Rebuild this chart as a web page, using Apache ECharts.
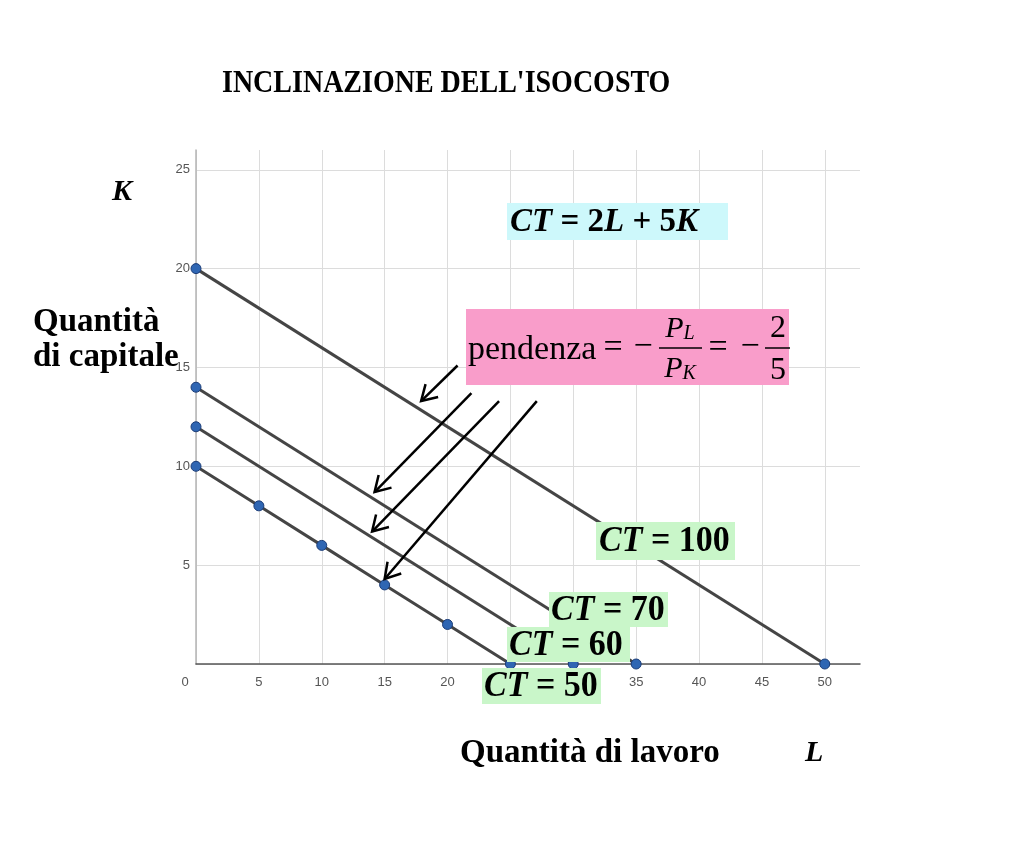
<!DOCTYPE html>
<html><head><meta charset="utf-8">
<script src="https://cdn.jsdelivr.net/npm/echarts@6/dist/echarts.min.js"></script>
<style>html,body{margin:0;padding:0;background:#fff}#c{width:1024px;height:859px}</style>
</head><body><div id="c"></div>
<script>
// ---- data ----
const xTickStep = 5;
const yTickStep = 5;
const xMax = 52.8;
const yMax = 26;
const ct100 = [[0,20],[50,0]];
const ct70  = [[0,14],[35,0]];
const ct60  = [[0,12],[30,0]];
const ct50  = [[0,10],[5,8],[10,6],[15,4],[20,2],[25,0]];
const arrows = [
  [[20.8,15.1],[17.9,13.3]],
  [[21.9,13.7],[14.2,8.7]],
  [[24.1,13.3],[14.0,6.7]],
  [[27.1,13.3],[15.0,4.3]]
];
const titleText = "INCLINAZIONE DELL'ISOCOSTO";

const SERIF = "'Liberation Serif', 'DejaVu Serif', serif";
const NARROW = "'Liberation Sans Narrow', 'Liberation Sans', Roboto, sans-serif";

const chart = echarts.init(document.getElementById('c'), null, {renderer:'canvas'});

function lineSeries(name, data) {
  return {
    name, type: 'line', data, z: 3,
    symbol: 'circle', symbolSize: 10,
    itemStyle: {color: '#2f66b3', borderColor: '#1c3d78', borderWidth: 1},
    lineStyle: {color: '#454545', width: 3},
    animation: false
  };
}

const option = {
  backgroundColor: '#fff',
  animation: false,
  grid: {left: 196, right: 164, top: 150, bottom: 195, containLabel: false},
  xAxis: {
    type: 'value', min: 0, max: xMax, interval: xTickStep,
    axisLine: {show: true, lineStyle: {color: '#555', width: 1.5}},
    axisTick: {show: false},
    axisLabel: {color: '#555', fontFamily: NARROW, fontSize: 13, margin: 12, showMaxLabel: false,
      formatter: v => v === 0 ? '0      ' : String(v)},
    splitLine: {show: true, showMaxLine: false, lineStyle: {color: '#dcdcdc', width: 1}}
  },
  yAxis: {
    type: 'value', min: 0, max: yMax, interval: yTickStep,
    axisLine: {show: true, lineStyle: {color: '#b5b5b5', width: 1.5}},
    axisTick: {show: false},
    axisLabel: {color: '#555', fontFamily: NARROW, fontSize: 13, margin: 6,
      showMaxLabel: false, formatter: v => v === 0 ? '' : String(v)},
    splitLine: {show: true, showMaxLine: false, lineStyle: {color: '#dcdcdc', width: 1}}
  },
  series: [
    lineSeries('CT = 100', ct100),
    lineSeries('CT = 70', ct70),
    lineSeries('CT = 60', ct60),
    lineSeries('CT = 50', ct50)
  ]
};
chart.setOption(option);

function txt(x, y, text, o) {
  o = o || {};
  return {
    type: 'text', x, y, z: 110, scaleX: o.sx || 1, scaleY: o.sy || 1,
    style: {
      text, fill: '#000',
      fontFamily: o.family || SERIF,
      fontSize: o.size || 30,
      fontWeight: o.weight || 'bold',
      fontStyle: o.style || 'normal',
      align: o.align || 'left', textAlign: o.align || 'left',
      verticalAlign: 'middle', textVerticalAlign: 'middle',
      rich: o.rich
    }
  };
}
function box(x1, y1, x2, y2, color) {
  return {type: 'rect', z: 100, shape: {x: x1, y: y1, width: x2 - x1, height: y2 - y1},
          style: {fill: color}};
}
const mathRich = (size) => ({
  i: {fontFamily: SERIF, fontSize: size, fontWeight: 'bold', fontStyle: 'italic', fill: '#000'},
  n: {fontFamily: SERIF, fontSize: size, fontWeight: 'bold', fontStyle: 'normal', fill: '#000'}
});
function ctLabel(x1, y1, x2, y2, value, tx) {
  return [
    box(x1, y1, x2, y2, '#c9f6c9'),
    txt(tx, (y1 + y2) / 2 + 1, '{i|CT}{n| = ' + value + '}', {rich: mathRich(34), size: 34, sy: 1.05})
  ];
}

const G = [];
// title
G.push(txt(222, 84, titleText, {size: 28, sy: 1.15}));
// axis names
G.push(txt(112, 192, 'K', {size: 30, style: 'italic'}));
G.push(txt(805, 753, 'L', {size: 30, style: 'italic'}));
G.push(txt(33, 322, 'Quantità', {size: 33}));
G.push(txt(33, 357, 'di capitale', {size: 33}));
G.push(txt(460, 753, 'Quantità di lavoro', {size: 33}));
// equation box
G.push(box(507, 203, 728, 240, '#cdf8fb'));
G.push(txt(510, 222, '{i|CT}{n| = 2}{i|L}{n| + 5}{i|K}', {rich: mathRich(33), size: 33, sy: 1.05}));
// CT labels
G.push(...ctLabel(596, 522, 735, 560, '100', 599));
G.push(...ctLabel(549, 592, 668, 627, '70', 551));
G.push(...ctLabel(507, 627, 630, 662, '60', 509));
G.push(...ctLabel(482, 668, 601, 704, '50', 484));
// slope box
G.push(box(466, 309, 789, 385, '#f99dca'));
const reg = {weight: 'normal', size: 34};
G.push(txt(468, 350, 'pendenza', reg));
G.push(txt(613, 348, '=', {weight: 'normal', size: 34, align: 'center'}));
G.push(txt(643, 347, '−', {weight: 'normal', size: 34, align: 'center'}));
G.push({type: 'line', z: 110, shape: {x1: 659, y1: 348, x2: 702, y2: 348}, style: {stroke: '#000', lineWidth: 1.5}});
const fracRich = {
  p: {fontFamily: SERIF, fontSize: 30, fontStyle: 'italic', fill: '#000'},
  s: {fontFamily: SERIF, fontSize: 20, fontStyle: 'italic', fill: '#000', padding: [10, 0, 0, 0]}
};
G.push(txt(680, 329, '{p|P}{s|L}', {size: 30, rich: fracRich, align: 'center'}));
G.push(txt(680, 369, '{p|P}{s|K}', {size: 30, rich: fracRich, align: 'center'}));
G.push(txt(718, 348, '=', {weight: 'normal', size: 34, align: 'center'}));
G.push(txt(750, 347, '−', {weight: 'normal', size: 34, align: 'center'}));
G.push({type: 'line', z: 110, shape: {x1: 765, y1: 348, x2: 790, y2: 348}, style: {stroke: '#000', lineWidth: 1.5}});
G.push(txt(778, 329, '2', {weight: 'normal', size: 32, align: 'center'}));
G.push(txt(778, 371, '5', {weight: 'normal', size: 32, align: 'center'}));

// arrows, positioned through the chart's scales
arrows.forEach(([s, t]) => {
  const p0 = chart.convertToPixel({gridIndex: 0}, s);
  const p1 = chart.convertToPixel({gridIndex: 0}, t);
  const dx = p1[0] - p0[0], dy = p1[1] - p0[1];
  const len = Math.hypot(dx, dy), ux = dx / len, uy = dy / len;
  const nx = -uy, ny = ux, hl = 15, hw = 9;
  G.push({type: 'line', z: 90, shape: {x1: p0[0], y1: p0[1], x2: p1[0], y2: p1[1]},
          style: {stroke: '#000', lineWidth: 2.5}});
  G.push({type: 'polyline', z: 90, shape: {points: [
    [p1[0] - hl * ux + hw * nx, p1[1] - hl * uy + hw * ny],
    [p1[0], p1[1]],
    [p1[0] - hl * ux - hw * nx, p1[1] - hl * uy - hw * ny]]},
    style: {stroke: '#000', lineWidth: 2.5, fill: null}});
});

chart.setOption({graphic: {elements: G}});
</script></body></html>
